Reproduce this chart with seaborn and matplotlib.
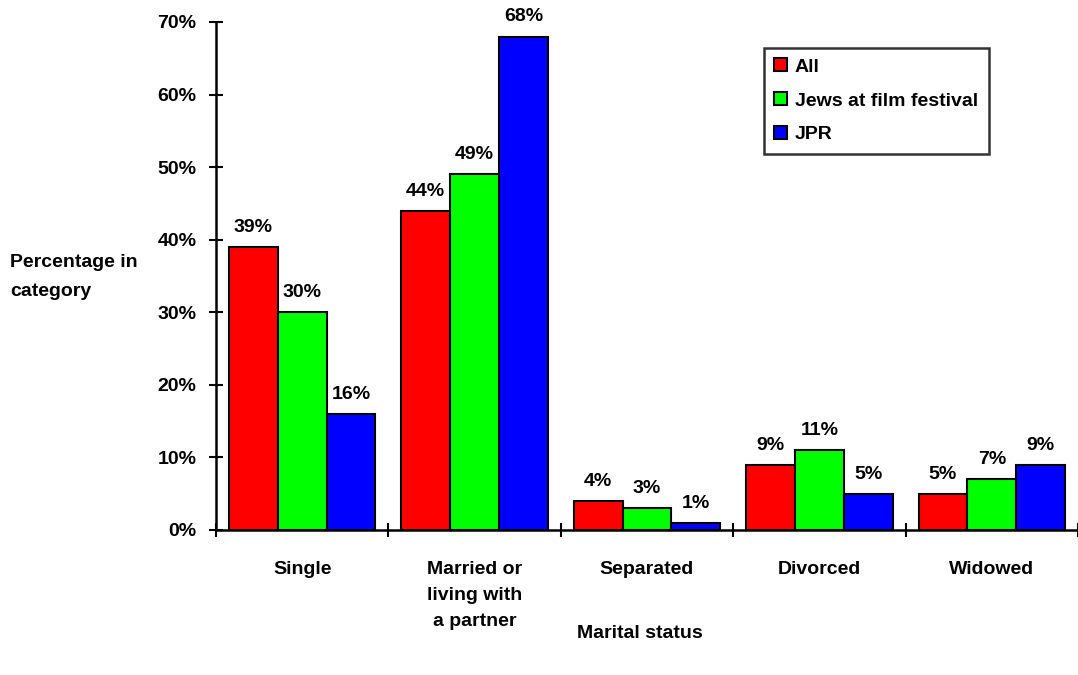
import matplotlib
matplotlib.use("Agg")
import matplotlib.pyplot as plt
from matplotlib.patches import Patch
from matplotlib.ticker import FixedLocator, FuncFormatter
import seaborn as sns
import pandas as pd

# Marital status breakdown (percent)
categories = ["Single", "Married or\nliving with\na partner", "Separated", "Divorced", "Widowed"]
series_names = ["All", "Jews at film festival", "JPR"]
all_values = [39, 44, 4, 9, 5]
festival_values = [30, 49, 3, 11, 7]
jpr_values = [16, 68, 1, 5, 9]
colors = ["#FF0000", "#00FF00", "#0000FF"]

rows = []
for name, vals in zip(series_names, [all_values, festival_values, jpr_values]):
    for cat, v in zip(categories, vals):
        rows.append({"status": cat, "group": name, "pct": v})
df = pd.DataFrame(rows)

sns.set_style("white")
plt.rcParams["font.family"] = ["Liberation Sans", "DejaVu Sans"]
plt.rcParams["font.weight"] = "bold"
plt.rcParams["text.color"] = "black"
plt.rcParams["xtick.color"] = "black"
plt.rcParams["ytick.color"] = "black"

FS = 14

fig = plt.figure(figsize=(10.78, 6.75), dpi=100)
ax = fig.add_axes([216 / 1078, 145 / 675, 862 / 1078, 508 / 675])

sns.barplot(data=df, x="status", y="pct", hue="group", order=categories,
            hue_order=series_names, palette=colors, saturation=1,
            width=0.85, gap=0, edgecolor="black", linewidth=1.5,
            errorbar=None, legend=False, ax=ax)

for cont in ax.containers:
    ax.bar_label(cont, fmt="%d%%", padding=8, fontsize=FS, fontweight="bold",
                 color="black")

ax.set_ylim(0, 70)
ax.set_xlim(-0.5, 4.47)
ax.yaxis.set_major_locator(FixedLocator(range(0, 71, 10)))
ax.yaxis.set_major_formatter(FuncFormatter(lambda v, p: f"{v:.0f}%"))
ax.tick_params(axis="y", left=True, direction="inout", length=10, width=1.5,
               labelsize=FS, pad=9)
ax.tick_params(axis="x", which="major", bottom=True, length=0, labelsize=FS, pad=22)
ax.set_xticks([i - 0.5 for i in range(6)], minor=True)
ax.tick_params(axis="x", which="minor", bottom=True, direction="inout",
               length=10, width=1.5)
for lbl in ax.get_xticklabels() + ax.get_yticklabels():
    lbl.set_fontweight("bold")
    lbl.set_color("black")
for lbl in ax.get_xticklabels():
    lbl.set_verticalalignment("top")
    lbl.set_linespacing(1.72)

for side in ["top", "right"]:
    ax.spines[side].set_visible(False)
for side in ["left", "bottom"]:
    ax.spines[side].set_linewidth(1.8)
    ax.spines[side].set_color("black")

ax.set_xlabel("")
ax.set_ylabel("")
fig.text(640 / 1078, 1 - 634 / 675, "Marital status", ha="center", va="center",
         fontsize=FS, fontweight="bold")
fig.text(10 / 1078, 1 - 277 / 675, "Percentage in\ncategory", ha="left", va="center",
         fontsize=FS, fontweight="bold", linespacing=1.85)

handles = [Patch(facecolor=c, edgecolor="black", linewidth=1.5) for c in colors]
leg = fig.legend(handles, series_names, loc="upper left",
                 bbox_to_anchor=(754 / 1078, 1 - 38 / 675),
                 frameon=True, fancybox=False, edgecolor="black",
                 handlelength=0.65, handleheight=0.65, handletextpad=0.4,
                 labelspacing=0.85, borderpad=0.55,
                 prop={"size": FS, "weight": "bold"})
leg.get_frame().set_linewidth(1.8)

fig.savefig("out.png", dpi=100, facecolor="white")
